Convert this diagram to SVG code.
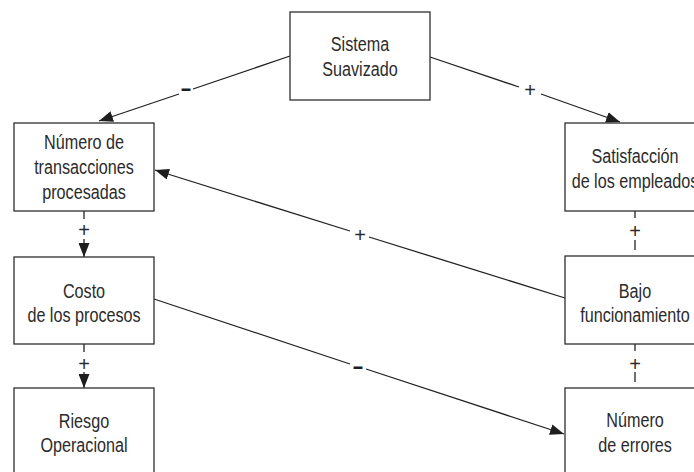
<svg xmlns="http://www.w3.org/2000/svg" width="694" height="472" viewBox="0 0 694 472">
  <style>
    .box { fill: #ffffff; stroke: #2e2e2e; stroke-width: 1.3; }
    .lbl { font-family: "Liberation Sans", Arial, sans-serif; font-size: 21px; fill: #2b2b2b; text-anchor: middle; }
    .edge { stroke: #222222; stroke-width: 1.3; fill: none; }
    .plus { font-family: "Liberation Sans", Arial, sans-serif; font-size: 20px; fill: #2b2b2b; text-anchor: middle; }
    .minus { font-family: "Liberation Sans", Arial, sans-serif; font-size: 24px; font-weight: bold; fill: #1e1e1e; text-anchor: middle; }
  </style>
  <defs>
    <marker id="arrow" markerUnits="userSpaceOnUse" markerWidth="15" markerHeight="11" refX="14" refY="5.5" orient="auto">
      <path d="M0,0 L14,5.5 L0,11 z" fill="#1e1e1e"/>
    </marker>
  </defs>

  <rect width="694" height="472" fill="#ffffff"/>

  <!-- connectors -->
  <g id="connectors">
    <!-- Sistema Suavizado -> Número de transacciones (negative) -->
    <line class="edge" x1="290" y1="56" x2="193" y2="89"/>
    <line class="edge" x1="179" y1="94" x2="99" y2="121" marker-end="url(#arrow)"/>
    <text class="minus" transform="matrix(0.75 0 0 1 186 0)" x="0" y="96">–</text>

    <!-- Sistema Suavizado -> Satisfacción (positive) -->
    <line class="edge" x1="430" y1="57" x2="519" y2="87"/>
    <line class="edge" x1="541" y1="94" x2="620" y2="122" marker-end="url(#arrow)"/>
    <text class="plus" x="530" y="97">+</text>

    <!-- Bajo funcionamiento -> Número de transacciones (positive) -->
    <line class="edge" x1="565" y1="298" x2="369" y2="237"/>
    <line class="edge" x1="350" y1="231" x2="155" y2="170" marker-end="url(#arrow)"/>
    <text class="plus" x="360" y="242">+</text>

    <!-- Costo de los procesos -> Número de errores (negative) -->
    <line class="edge" x1="154" y1="299" x2="350" y2="364"/>
    <line class="edge" x1="366" y1="369" x2="564" y2="434" marker-end="url(#arrow)"/>
    <text class="minus" transform="matrix(0.75 0 0 1 358 0)" x="0" y="374">–</text>

    <!-- Número de transacciones -> Costo (positive) -->
    <line class="edge" x1="84" y1="211" x2="84" y2="219"/>
    <line class="edge" x1="84" y1="239" x2="84" y2="257" marker-end="url(#arrow)"/>
    <text class="plus" x="84" y="237">+</text>

    <!-- Costo -> Riesgo Operacional (positive) -->
    <line class="edge" x1="84" y1="344" x2="84" y2="352"/>
    <line class="edge" x1="84" y1="372" x2="84" y2="388" marker-end="url(#arrow)"/>
    <text class="plus" x="84" y="371">+</text>

    <!-- Satisfacción — Bajo funcionamiento (positive) -->
    <line class="edge" x1="635" y1="211" x2="635" y2="218"/>
    <line class="edge" x1="635" y1="240" x2="635" y2="250"/>
    <text class="plus" x="635" y="238">+</text>

    <!-- Bajo funcionamiento — Número de errores (positive) -->
    <line class="edge" x1="635" y1="344" x2="635" y2="351"/>
    <line class="edge" x1="635" y1="372" x2="635" y2="382"/>
    <text class="plus" x="635" y="371">+</text>
  </g>

  <!-- nodes -->
  <g id="sistema">
    <rect class="box" x="290" y="12" width="140" height="88"/>
    <text class="lbl" transform="matrix(0.77 0 0 1 360 0)"><tspan x="0" y="51">Sistema</tspan><tspan x="0" y="76">Suavizado</tspan></text>
  </g>

  <g id="transacciones">
    <rect class="box" x="14" y="123" width="140" height="88"/>
    <text class="lbl" transform="matrix(0.77 0 0 1 84 0)"><tspan x="0" y="149">Número de</tspan><tspan x="0" y="174">transacciones</tspan><tspan x="0" y="199">procesadas</tspan></text>
  </g>

  <g id="satisfaccion">
    <rect class="box" x="565" y="123" width="145" height="88"/>
    <text class="lbl" transform="matrix(0.77 0 0 1 635 0)"><tspan x="0" y="163">Satisfacción</tspan><tspan x="0" y="188">de los empleados</tspan></text>
  </g>

  <g id="costo">
    <rect class="box" x="14" y="257" width="140" height="87"/>
    <text class="lbl" transform="matrix(0.77 0 0 1 84 0)"><tspan x="0" y="298">Costo</tspan><tspan x="0" y="322">de los procesos</tspan></text>
  </g>

  <g id="bajo">
    <rect class="box" x="565" y="256" width="145" height="88"/>
    <text class="lbl" transform="matrix(0.77 0 0 1 635 0)"><tspan x="0" y="298">Bajo</tspan><tspan x="0" y="322">funcionamiento</tspan></text>
  </g>

  <g id="riesgo">
    <rect class="box" x="14" y="388" width="140" height="95"/>
    <text class="lbl" transform="matrix(0.77 0 0 1 84 0)"><tspan x="0" y="428">Riesgo</tspan><tspan x="0" y="452">Operacional</tspan></text>
  </g>

  <g id="errores">
    <rect class="box" x="565" y="388" width="145" height="95"/>
    <text class="lbl" transform="matrix(0.77 0 0 1 635 0)"><tspan x="0" y="427">Número</tspan><tspan x="0" y="452">de errores</tspan></text>
  </g>
</svg>
